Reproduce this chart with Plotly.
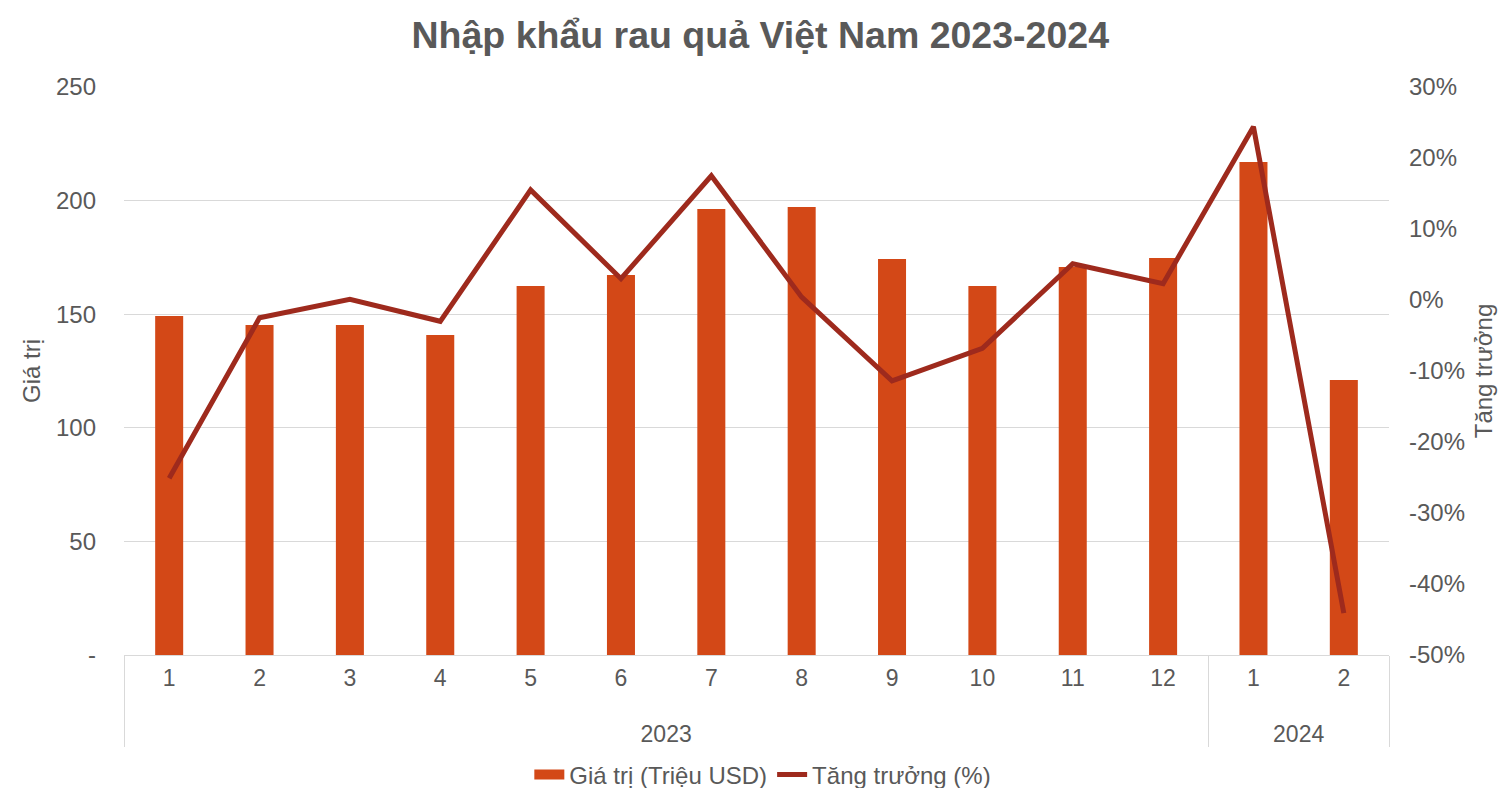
import plotly.graph_objects as go

years = ["2023"] * 12 + ["2024"] * 2
months = ["1", "2", "3", "4", "5", "6", "7", "8", "9", "10", "11", "12", "1", "2"]
value_musd = [149.2, 145.2, 145.2, 140.8, 162.4, 167.2, 196.3, 197.2, 174.3, 162.4, 170.8, 174.7, 217.0, 121.0]
growth_pct = [-25.1, -2.5, 0.1, -3.0, 15.5, 3.0, 17.5, 0.4, -11.4, -6.8, 5.1, 2.3, 24.4, -44.1]

left_ticks = [0, 50, 100, 150, 200, 250]
left_labels = ["-", "50", "100", "150", "200", "250"]
right_ticks = [-50, -40, -30, -20, -10, 0, 10, 20, 30]
right_labels = ["-50%", "-40%", "-30%", "-20%", "-10%", "0%", "10%", "20%", "30%"]

txt = "#595959"
bar_color = "#D34817"
line_color = "#9E2A1D"
font_family = "Liberation Sans, Arial, sans-serif"

# year group labels pushed down one line (as in the reference layout)
year_lbl = ["<br>" + y for y in years]
xcat = [year_lbl, months]

fig = go.Figure()
fig.add_trace(go.Bar(
    x=xcat, y=value_musd, name="Giá trị (Triệu USD)", showlegend=False,
    marker=dict(color=bar_color, line=dict(width=0)), width=0.31,
))
fig.add_trace(go.Scatter(
    x=xcat, y=growth_pct, name="Tăng trưởng (%)", yaxis="y2",
    mode="lines", line=dict(color=line_color, width=5),
))
# legend-only proxy: wide rectangle key for the bar series
fig.add_trace(go.Scatter(
    x=[year_lbl[:1], months[:1]], y=[None], name="Giá trị (Triệu USD)",
    mode="lines", line=dict(color=bar_color, width=12), hoverinfo="skip",
    legendrank=1,
))

# the page body adds an 8px offset; margins compensate
fig.update_layout(
    width=1506, height=788,
    paper_bgcolor="white", plot_bgcolor="white",
    margin=dict(l=116, r=125, t=79, b=141, autoexpand=False),
    font=dict(family=font_family, color=txt, size=24),
    title=dict(text="<b>Nhập khẩu rau quả Việt Nam 2023-2024</b>", x=0.4995, xanchor="center",
               y=1 - 27 / 788, yanchor="middle", font=dict(size=37.5, color=txt)),
    showlegend=True,
    legend=dict(orientation="h", x=0.505, xanchor="center", y=-0.211, yanchor="middle",
                font=dict(size=24, color=txt), traceorder="normal"),
    bargap=0.69,
    xaxis=dict(
        type="multicategory", showline=True, linecolor="#D9D9D9", linewidth=1,
        showdividers=True, dividercolor="#D9D9D9", dividerwidth=1,
        ticks="", tickfont=dict(size=23, color=txt), showgrid=False, automargin=False,
        ticklabelstandoff=2,
    ),
    yaxis=dict(
        range=[0, 250], tickvals=left_ticks, ticktext=left_labels,
        showgrid=True, gridcolor="#D9D9D9", gridwidth=1, zeroline=False,
        tickfont=dict(size=24, color=txt), ticks="", ticklabelstandoff=27, automargin=False,
        title=dict(text="Giá trị", font=dict(size=24, color=txt), standoff=8),
    ),
    yaxis2=dict(
        range=[-50, 30], tickvals=right_ticks, ticktext=right_labels, overlaying="y", side="right",
        showgrid=False, zeroline=False, tickfont=dict(size=24, color=txt), ticks="",
        ticklabelstandoff=19, automargin=False,
        title=dict(text="Tăng trưởng", font=dict(size=24, color=txt), standoff=11),
    ),
)

fig.write_html("out.html")
